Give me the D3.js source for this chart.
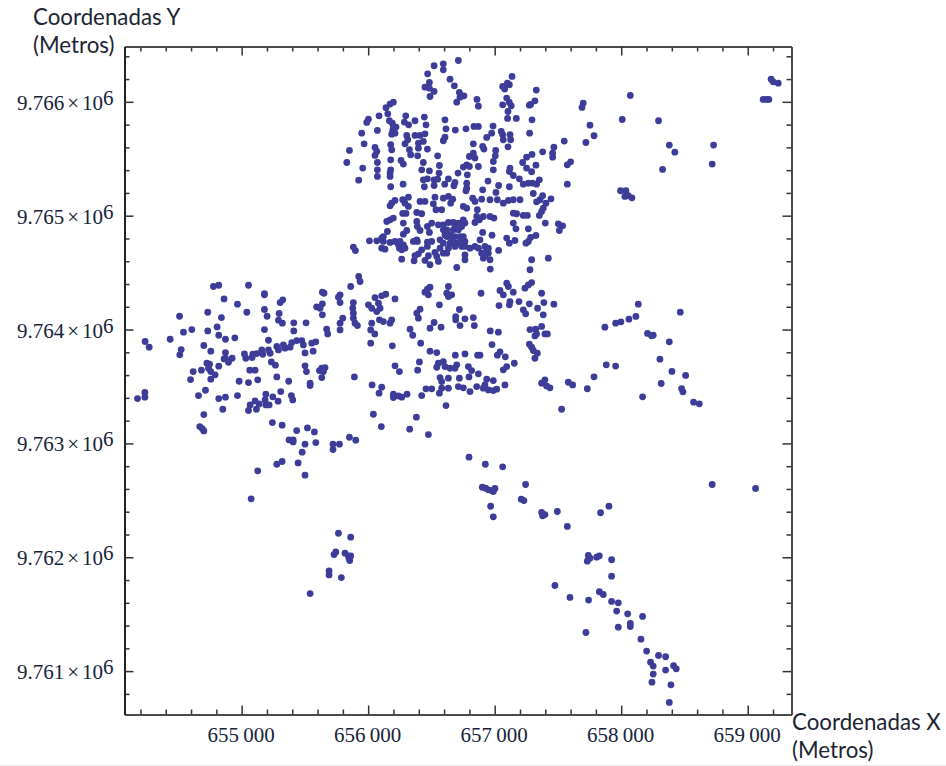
<!DOCTYPE html>
<html>
<head>
<meta charset="utf-8">
<script src="https://cdn.jsdelivr.net/npm/d3@7"></script>
<style>
  html, body { margin: 0; padding: 0; background: #fff; overflow: hidden; }
  svg { display: block; }
  .tick line { stroke: #333; stroke-width: 1.5; }
  .domain { stroke: #4a4a4a; stroke-width: 2; }
  .tick text { font-family: "Liberation Serif", serif; font-size: 21px; fill: #16243a; }
  .axis-title { font-family: Lato, "Open Sans", sans-serif; font-size: 22.3px; fill: #1c2433; }
</style>
</head>
<body>
<div id="container"></div>
<script>
const WIDTH = 946;
const HEIGHT = 766;
const PLOT = { left: 124.5, right: 791.5, top: 46.5, bottom: 714.5 };
const MAJOR = 9;
const MINOR = 5;
const DOT_COLOR = "#3d3d99";

const xDomain = [654074, 659346];
const yDomain = [9760619, 9766486];
const xMajor = [655000, 656000, 657000, 658000, 659000];
const xMinor = [654200, 654400, 654600, 654800, 655200, 655400, 655600, 655800, 656200, 656400, 656600, 656800, 657200, 657400, 657600, 657800, 658200, 658400, 658600, 658800, 659200];
const yMajor = [9761000, 9762000, 9763000, 9764000, 9765000, 9766000];
const yMinor = [9760800, 9761200, 9761400, 9761600, 9761800, 9762200, 9762400, 9762600, 9762800, 9763200, 9763400, 9763600, 9763800, 9764200, 9764400, 9764600, 9764800, 9765200, 9765400, 9765600, 9765800, 9766200, 9766400];

// points are [easting, northing] in metres
const topLobes = [[656713,9766363],[656521,9766317],[656594,9766334],[656594,9766281],[656470,9766246],[656647,9766199],[656681,9766141],[656484,9766170],[656449,9766129],[656484,9766120],[656521,9766091],[656489,9766047],[656721,9766082],[656757,9766053],[656726,9766041],[656700,9765997],[657137,9766223],[657100,9766164],[657063,9766135],[657079,9766112],[657116,9766150],[657329,9766103],[656860,9766021],[656871,9765962],[657095,9766033],[657116,9765995],[657063,9765974],[657131,9765965],[657105,9765915],[657318,9766009],[657274,9765971],[657284,9765977]];

const upperBlock = [[656199,9765997],[656173,9765980],[656141,9765948],[656155,9765895],[656086,9765877],[656002,9765848],[655989,9765819],[656168,9765834],[656191,9765813],[656297,9765877],[656286,9765822],[656320,9765798],[656370,9765834],[656444,9765866],[656457,9765798],[656607,9765842],[656615,9765763],[656689,9765752],[656773,9765763],[656836,9765784],[656871,9765784],[656987,9765787],[656976,9765725],[656937,9765687],[657052,9765740],[657063,9765711],[657068,9765667],[657121,9765711],[657126,9765667],[657105,9765605],[657295,9765842],[657276,9765725],[657171,9765854],[657102,9765854],[656073,9765749],[655949,9765725],[655968,9765631],[655852,9765573],[655831,9765467],[655957,9765418],[655925,9765312],[656054,9765599],[656068,9765564],[656054,9765529],[656073,9765467],[656073,9765403],[656073,9765345],[656178,9765623],[656186,9765579],[656178,9765491],[656260,9765485],[656278,9765453],[656178,9765403],[656173,9765374],[656173,9765345],[656178,9765254],[656276,9765277],[656199,9765778],[656220,9765778],[656194,9765749],[656212,9765725],[656186,9765716],[656305,9765705],[656313,9765667],[656291,9765631],[656370,9765705],[656410,9765705],[656449,9765719],[656436,9765652],[656397,9765637],[656397,9765593],[656468,9765585],[656326,9765579],[656336,9765535],[656391,9765526],[656549,9765526],[656607,9765690],[656594,9765658],[656831,9765631],[656905,9765608],[656915,9765585],[657008,9765573],[657005,9765526],[656989,9765476],[656989,9765403],[656831,9765549],[656800,9765520],[656844,9765506],[656779,9765447],[656752,9765427],[656800,9765432],[656871,9765432],[656710,9765374],[656784,9765359],[656436,9765467],[656423,9765403],[656484,9765394],[656563,9765441],[656560,9765374],[656436,9765315],[656468,9765324],[656521,9765315],[656549,9765321],[656634,9765324],[656686,9765292],[656678,9765263],[656605,9765277],[656521,9765265],[656444,9765254],[656779,9765286],[656779,9765242],[656773,9765219],[656905,9765227],[656947,9765304],[657031,9765265],[657116,9765254],[657010,9765204],[657121,9765418],[657116,9765388],[657147,9765353],[657195,9765324],[657226,9765277],[657266,9765286],[657300,9765286],[657331,9765277],[657353,9765315],[657221,9765467],[657252,9765514],[657295,9765538],[657379,9765561],[657468,9765602],[657458,9765549],[657458,9765514],[657550,9765655],[657252,9765418],[657292,9765386],[657326,9765444],[657600,9765473],[657574,9765447],[657574,9765277],[657305,9765195],[657379,9765175],[657358,9765140],[657331,9765122],[657445,9765148],[657405,9765110],[657384,9765066],[657371,9765037],[657353,9765002]];

const midRow = [[656318,9765163],[656273,9765140],[656212,9765134],[656186,9765110],[656173,9765087],[656291,9765110],[656318,9765081],[656410,9765125],[656449,9765125],[656528,9765163],[656594,9765154],[656634,9765169],[656668,9765145],[656515,9765104],[656652,9765110],[656536,9765052],[656581,9765052],[656752,9765081],[656779,9765066],[656863,9765052],[656826,9765154],[656844,9765125],[656897,9765145],[656963,9765140],[657021,9765140],[657068,9765110],[657108,9765134],[657147,9765140],[657200,9765140],[657147,9765022],[657173,9765017],[657226,9765002],[657258,9765002],[656273,9765020],[656299,9765020],[656384,9765028],[656423,9765017],[656173,9764964],[656199,9764979],[656147,9764949]];

const denseBlock = [[656278,9764935],[656384,9764949],[656389,9764905],[656410,9764870],[656468,9764905],[656502,9764935],[656484,9764853],[656555,9764920],[656594,9764920],[656634,9764940],[656673,9764940],[656713,9764935],[656752,9764964],[656765,9764935],[656621,9764876],[656673,9764876],[656607,9764832],[656686,9764817],[656726,9764817],[656752,9764817],[656731,9764788],[656765,9764774],[656739,9764730],[656700,9764759],[656647,9764759],[656594,9764759],[656568,9764788],[656634,9764715],[656621,9764671],[656594,9764671],[656844,9764940],[656879,9764964],[656910,9764993],[656963,9764993],[656994,9764979],[656858,9764993],[656905,9764853],[656979,9764829],[657095,9764803],[657116,9764759],[657160,9764782],[657147,9764935],[657168,9764885],[657266,9764885],[657400,9764935],[657503,9764929],[657537,9764911],[657511,9764870],[657326,9764826],[657284,9764809],[657266,9764774],[657247,9764759],[656152,9764861],[656305,9764870],[656278,9764838],[656010,9764779],[656068,9764779],[656107,9764803],[656120,9764774],[656107,9764715],[656133,9764706],[656173,9764765],[656212,9764774],[656252,9764774],[656247,9764715],[656265,9764700],[656291,9764715],[656357,9764774],[656389,9764774],[656468,9764768],[656502,9764774],[656468,9764730],[656423,9764700],[656397,9764665],[656370,9764648],[656476,9764648],[656528,9764677],[656542,9764642],[656489,9764569],[656449,9764607],[656555,9764598],[656363,9764604],[656265,9764618],[656765,9764656],[656765,9764613],[656884,9764788],[656844,9764730],[656805,9764715],[656871,9764715],[656923,9764730],[656950,9764715],[656950,9764671],[656910,9764627],[656963,9764613],[657031,9764695],[657292,9764613],[657424,9764627],[657279,9764525],[656700,9764545],[656965,9764531],[655883,9764724],[655899,9764694],[656621,9764817],[656660,9764788],[656686,9764730],[656726,9764759],[656647,9764832],[656713,9764876],[656739,9764905],[656594,9764876],[656686,9764920],[656765,9764730],[656568,9764715],[656937,9764686],[656923,9764648],[656897,9764671],[656120,9764817],[656278,9764744],[656239,9764744],[656384,9764788]];

const lowerBlock = [[655925,9764466],[655936,9764422],[655862,9764378],[655778,9764305],[655778,9764237],[656054,9764281],[656107,9764296],[656139,9764310],[656212,9764269],[656002,9764217],[656028,9764187],[656081,9764231],[656094,9764187],[656068,9764158],[655883,9764237],[655878,9764187],[655883,9764144],[655883,9764100],[655896,9764056],[655915,9764035],[655799,9764100],[655778,9764056],[655778,9763997],[656028,9764056],[656089,9764085],[656120,9764070],[656186,9764085],[656173,9764056],[656020,9763997],[656052,9763962],[656020,9763880],[656191,9763857],[656489,9764372],[656468,9764354],[656449,9764328],[656476,9764305],[656634,9764378],[656621,9764319],[656660,9764305],[656634,9764290],[656563,9764217],[656410,9764179],[656384,9764144],[656397,9764100],[656521,9764062],[656489,9764012],[656576,9764021],[656721,9764176],[656692,9764114],[656692,9764085],[656765,9764094],[656831,9764105],[656726,9764035],[656839,9764035],[656331,9764003],[656352,9763950],[656415,9763880],[656892,9764319],[657095,9764407],[657108,9764378],[657042,9764343],[657068,9764305],[657147,9764328],[657292,9764413],[657266,9764392],[657239,9764363],[657371,9764319],[657034,9764211],[657121,9764246],[657116,9764217],[657192,9764246],[657274,9764226],[657339,9764187],[657389,9764237],[657468,9764223],[657384,9764129],[657226,9764173],[657245,9764138],[656965,9763988],[657029,9763977],[657279,9764000],[657324,9764003],[657371,9764027],[657331,9763962],[657318,9763944],[657397,9763962],[657416,9763962],[656979,9763868],[657274,9763871],[657292,9763845],[657305,9763816],[657337,9763792],[657318,9763748],[656489,9763810],[656542,9763798],[656689,9763775],[656765,9763786],[656865,9763775],[656884,9763775],[657042,9763804],[657021,9763775],[657084,9763760],[656405,9763716],[656391,9763643],[656212,9763681],[656247,9763631],[656555,9763704],[656542,9763669],[656594,9763719],[656607,9763675],[656647,9763660],[656700,9763690],[656686,9763660],[656792,9763675],[656818,9763640],[656871,9763611],[657095,9763675],[657068,9763646],[657155,9763704],[655891,9763584],[656031,9763514],[656107,9763494],[656086,9763441],[656199,9763432],[656199,9763403],[656239,9763417],[656265,9763406],[656307,9763432],[656568,9763578],[656581,9763543],[656634,9763573],[656721,9763573],[656797,9763584],[656581,9763485],[656563,9763441],[656634,9763485],[656713,9763499],[656752,9763488],[656805,9763455],[656858,9763499],[656457,9763479],[656502,9763479],[656423,9763420],[656937,9763564],[656923,9763514],[656989,9763552],[656950,9763470],[656989,9763464],[657016,9763476],[656910,9763485],[657081,9763514],[656615,9763332],[657371,9763529],[657397,9763558],[657410,9763505],[657437,9763488],[657582,9763537],[657616,9763514],[657529,9763300],[656041,9763256],[656104,9763148],[656381,9763230],[656328,9763125],[656476,9763078],[655852,9763054],[655902,9763028],[656797,9762879]];

const westBlock = [[654237,9763895],[654269,9763845],[654177,9763394],[654235,9763447],[654235,9763406],[654435,9763915],[654509,9764117],[654540,9763977],[654606,9764000],[654732,9764152],[654732,9763988],[654806,9764023],[654840,9764105],[654819,9763950],[654872,9763915],[654946,9763927],[654777,9764378],[654819,9764389],[655054,9764389],[654861,9764269],[654967,9764223],[655041,9764152],[655180,9764316],[655180,9764305],[655180,9764176],[655201,9764117],[655296,9764141],[655291,9764082],[655322,9764056],[655304,9764237],[655325,9764261],[655412,9764059],[655509,9764059],[655412,9763988],[655180,9764000],[655212,9763906],[655638,9764328],[655651,9764319],[655765,9764284],[655593,9764199],[655638,9764226],[655620,9764187],[655638,9764129],[655672,9764003],[655680,9763962],[654522,9763824],[654511,9763778],[654701,9763860],[654756,9763810],[654872,9763798],[654872,9763748],[654925,9763748],[654861,9763742],[654896,9763713],[655022,9763786],[655033,9763748],[655083,9763754],[655088,9763783],[655120,9763789],[655159,9763821],[655167,9763783],[655212,9763821],[655225,9763792],[655278,9763851],[655291,9763821],[655330,9763865],[655343,9763836],[655383,9763845],[655396,9763886],[655435,9763903],[655475,9763903],[655488,9763865],[655554,9763880],[655586,9763892],[655501,9763795],[655565,9763810],[655235,9763716],[655267,9763687],[655064,9763643],[655106,9763643],[655127,9763558],[655278,9763584],[655372,9763546],[655501,9763681],[655512,9763631],[655615,9763640],[655633,9763660],[655659,9763666],[655646,9763631],[655633,9763578],[655541,9763529],[655541,9763508],[654980,9763546],[655054,9763534],[654617,9763631],[654596,9763561],[654682,9763643],[654725,9763704],[654746,9763696],[654738,9763660],[654756,9763631],[654819,9763678],[654790,9763602],[654756,9763564],[654714,9763467],[654659,9763420],[654819,9763394],[654872,9763406],[654967,9763420],[654851,9763300],[654701,9763253],[654669,9763148],[654688,9763130],[654701,9763110],[655191,9763432],[655246,9763409],[655309,9763455],[655393,9763420],[655404,9763382],[655106,9763373],[655067,9763338],[655138,9763347],[655185,9763382],[655191,9763338],[655217,9763338],[655288,9763371],[655054,9763289],[655117,9763300],[655243,9763183],[655320,9763160],[655435,9763113],[655520,9763136],[655575,9763101],[655375,9763031],[655407,9763031],[655407,9763013],[655501,9762993],[655586,9763007],[655478,9762923],[655722,9762993],[655722,9762946],[655773,9762993],[655278,9762817],[655320,9762841],[655446,9762829],[655501,9762721],[655127,9762759],[655075,9762513]];

const eastScatter = [[657700,9765989],[657690,9765951],[657753,9765795],[657785,9765702],[657721,9765643],[658008,9765845],[658072,9766056],[658295,9765834],[658380,9765620],[658424,9765558],[658327,9765406],[658730,9765620],[658719,9765453],[657995,9765219],[658037,9765219],[658029,9765169],[658056,9765175],[658085,9765157],[659185,9766199],[659201,9766176],[659241,9766164],[659122,9766021],[659148,9766021],[659167,9766021],[658135,9764223],[657871,9764021],[657956,9764056],[657998,9764068],[658061,9764091],[658116,9764115],[658467,9764153],[658208,9763966],[658240,9763945],[658253,9763951],[658380,9763892],[658306,9763740],[657882,9763690],[657956,9763679],[658401,9763632],[658509,9763597],[657785,9763585],[657732,9763480],[658316,9763526],[658477,9763482],[658488,9763453],[658169,9763409],[658572,9763362],[658617,9763348],[658719,9762639],[659062,9762604]];

const southTail = [[657903,9762449],[657837,9762391],[657574,9762271],[657740,9762016],[657753,9761992],[657732,9761966],[657806,9762001],[657827,9762013],[657924,9761978],[657924,9761834],[657827,9761697],[657858,9761673],[657595,9761647],[657742,9761624],[657924,9761612],[657977,9761600],[657964,9761527],[658051,9761503],[658169,9761480],[657977,9761386],[658072,9761419],[658072,9761392],[657721,9761339],[658156,9761281],[658201,9761176],[658295,9761137],[658351,9761126],[658232,9761079],[658253,9761044],[658414,9761047],[658435,9761020],[658351,9761009],[658253,9760974],[658243,9760903],[658393,9760880],[658380,9760725],[656926,9762817],[657063,9762794],[657244,9762639],[656902,9762615],[656928,9762607],[656950,9762592],[656976,9762586],[657002,9762604],[656989,9762577],[657210,9762510],[657231,9762498],[656968,9762448],[656989,9762355],[657371,9762393],[657397,9762375],[657379,9762364],[657495,9762402],[657476,9761752],[655765,9762211],[655862,9762176],[655744,9762047],[655730,9762024],[655817,9762036],[655844,9762012],[655862,9762012],[655849,9761992],[655854,9761971],[655691,9761880],[655691,9761845],[655788,9761822],[655541,9761681]];

const allPoints = [topLobes, upperBlock, midRow, denseBlock, lowerBlock, westBlock, eastScatter, southTail].flat();

const xScale = d3.scaleLinear().domain(xDomain).range([PLOT.left, PLOT.right]);
const yScale = d3.scaleLinear().domain(yDomain).range([PLOT.bottom, PLOT.top]);

const svg = d3.select("#container").append("svg")
  .attr("width", WIDTH)
  .attr("height", HEIGHT);

// the reference is a soft screenshot, dots have a slight halo
svg.append("defs").append("filter")
  .attr("id", "soft")
  .append("feGaussianBlur")
  .attr("stdDeviation", 0.35);

// ticks point inward on all four sides
function drawAxis(axisFn, scale, major, minor, x, y, labelled) {
  const minorAxis = axisFn(scale).tickValues(minor).tickSizeInner(-MINOR).tickSizeOuter(0).tickFormat("");
  svg.append("g")
    .attr("transform", "translate(" + x + "," + y + ")")
    .call(minorAxis)
    .call(g => g.select(".domain").remove());
  const majorAxis = axisFn(scale).tickValues(major).tickSizeInner(-MAJOR).tickSizeOuter(0).tickFormat("");
  return svg.append("g")
    .attr("transform", "translate(" + x + "," + y + ")")
    .call(labelled ? majorAxis.tickPadding(12).tickFormat(labelled) : majorAxis);
}

drawAxis(d3.axisTop, xScale, xMajor, xMinor, 0, PLOT.top, null);
drawAxis(d3.axisRight, yScale, yMajor, yMinor, PLOT.right, 0, null);

// 655000 -> "655 000" with a thin gap
const xLabel = d => String(d).slice(0, 3) + "\u2009" + String(d).slice(3);
drawAxis(d3.axisBottom, xScale, xMajor, xMinor, 0, PLOT.bottom, xLabel)
  .selectAll(".tick text")
  .attr("dy", "0.72em")
  .attr("x", -1);

const yAxisG = drawAxis(d3.axisLeft, yScale, yMajor, yMinor, PLOT.left, 0, d => d);
yAxisG.select(".domain").style("stroke", "#222");
yAxisG.selectAll(".tick text").each(function (d) {
  const t = d3.select(this).text("").attr("x", -11).attr("dy", "0.36em");
  t.append("tspan").text((d / 1e6).toFixed(3));
  t.append("tspan").attr("dx", 3).text("\u00d7");
  t.append("tspan").attr("dx", 3).text("10");
  t.append("tspan").attr("dy", -5).text("6");
});

svg.append("g")
  .attr("filter", "url(#soft)")
  .selectAll("circle")
  .data(allPoints)
  .enter()
  .append("circle")
  .attr("cx", d => xScale(d[0]))
  .attr("cy", d => yScale(d[1]))
  .attr("r", 3.4)
  .style("fill", DOT_COLOR);

const titles = [
  ["Coordenadas Y", 33, 25],
  ["(Metros)", 33, 53],
  ["Coordenadas X", 792, 730],
  ["(Metros)", 792, 758]
];
svg.selectAll(".axis-title")
  .data(titles)
  .enter()
  .append("text")
  .attr("class", "axis-title")
  .attr("x", d => d[1])
  .attr("y", d => d[2])
  .text(d => d[0]);

// thin grey edge at the bottom of the screenshot
svg.append("line")
  .attr("x1", 0).attr("x2", WIDTH)
  .attr("y1", 765.5).attr("y2", 765.5)
  .style("stroke", "#f0f0f0");
</script>
</body>
</html>
